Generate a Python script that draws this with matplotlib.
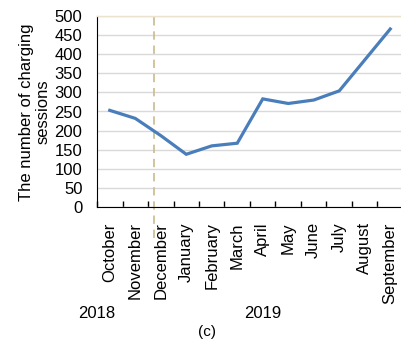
import matplotlib
matplotlib.use("Agg")
import matplotlib.pyplot as plt
import numpy as np

plt.rcParams['font.family'] = ['Liberation Sans', 'DejaVu Sans']

months = ["October", "November", "December", "January", "February", "March",
          "April", "May", "June", "July", "August", "September"]
sessions = [253, 232, 187, 138, 160, 167, 283, 271, 280, 304, 385, 466]
years = ["2018", "2019"]
yticks = [0, 50, 100, 150, 200, 250, 300, 350, 400, 450, 500]
split_at = 1.75  # boundary marker between the 2018 and 2019 periods

fig = plt.figure(figsize=(4.01, 3.39), dpi=100)
ax = fig.add_axes([97 / 401, 1 - 207 / 339, 306 / 401, 191 / 339])

x = np.arange(len(months))
ax.plot(x, sessions, color="#4a7ebb", linewidth=2.3, solid_joinstyle="miter", zorder=3)

ax.set_xlim(-0.5, len(months) - 0.5)
ax.set_ylim(0, 500)
ax.set_yticks(yticks)
ax.set_yticklabels([str(v) for v in yticks], fontsize=12)
ax.tick_params(axis="y", length=0, pad=10.5)

ax.set_xticks(x)
ax.set_xticklabels(months, rotation=90, fontsize=12, va="top", ha="center")
ax.set_xticks(np.arange(len(months) + 1) - 0.5, minor=True)
ax.tick_params(axis="x", which="major", length=0, pad=11)
ax.tick_params(axis="x", which="minor", direction="in", length=4, width=1, color="black")

ax.grid(axis="y", color="#d9d9d9", linewidth=1)
ax.set_axisbelow(True)

for side in ("right",):
    ax.spines[side].set_visible(False)
ax.spines["top"].set_color("#ece3cf")
ax.spines["top"].set_linewidth(1)
ax.spines["left"].set_color("black")
ax.spines["bottom"].set_color("black")

ax.axvline(split_at, ymin=-0.16, ymax=1.0, color="#c9bb8e", linewidth=1.2,
           linestyle=(0, (5, 3.5)), clip_on=False, zorder=2)

fig.text(35 / 401, 1 - 112 / 339, "The number of charging\nsessions",
         rotation=90, ha="center", va="center", fontsize=12, linespacing=1.15)

fig.text(97 / 401, 1 - 313 / 339, years[0], ha="center", va="center", fontsize=12)
fig.text(263 / 401, 1 - 313 / 339, years[1], ha="center", va="center", fontsize=12)
fig.text(207 / 401, 1 - 332 / 339, "(c)", ha="center", va="center", fontsize=11)

fig.savefig("out.png", dpi=100)
